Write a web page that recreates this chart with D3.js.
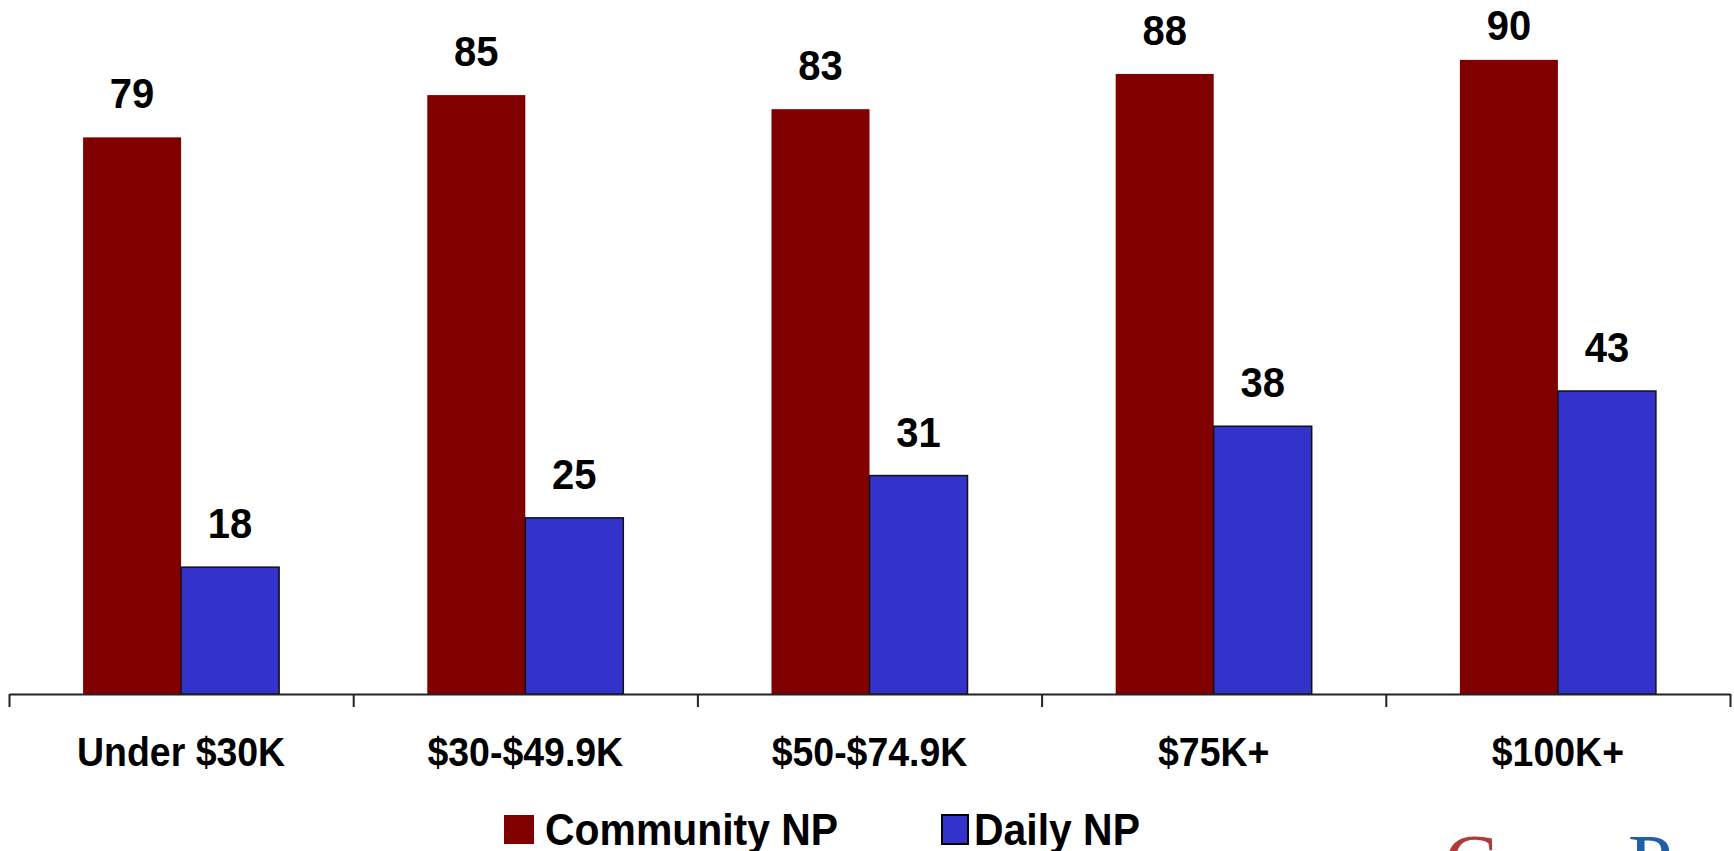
<!DOCTYPE html>
<html>
<head>
<meta charset="utf-8">
<script src="https://cdn.jsdelivr.net/npm/d3@7"></script>
<style>
  html, body { margin: 0; padding: 0; background: #fff; overflow: hidden; }
  svg { display: block; }
</style>
</head>
<body>
<svg id="chart" width="1734" height="851"></svg>
<script>
const categories = ["Under $30K", "$30-$49.9K", "$50-$74.9K", "$75K+", "$100K+"];
const seriesNames = ["Community NP", "Daily NP"];
const communityValues = [79, 85, 83, 88, 90];
const dailyValues = [18, 25, 31, 38, 43];
const seriesColors = ["#800000", "#3333CC"];
const logoParts = ["C", "P"];

const svg = d3.select("#chart");
const FONT = "'Liberation Sans', Arial, Helvetica, sans-serif";

const x0 = 9, x1 = 1730, baseY = 694;
const y = d3.scaleLinear().domain([0, 100]).range([baseY, baseY - 704.6]);
const xBand = d3.scaleBand().domain(categories).range([x0, x1]).paddingInner(0).paddingOuter(0);
const xSeries = d3.scaleBand().domain(seriesNames).range([0, xBand.bandwidth()]).paddingInner(0).paddingOuter(0.756);

const data = categories.map((c, i) => ({
  cat: c,
  vals: [
    { s: seriesNames[0], v: communityValues[i], color: seriesColors[0] },
    { s: seriesNames[1], v: dailyValues[i], color: seriesColors[1] }
  ]
}));

const groups = svg.selectAll("g.cat").data(data).join("g")
  .attr("class", "cat")
  .attr("transform", d => `translate(${xBand(d.cat)},0)`);

groups.selectAll("rect").data(d => d.vals).join("rect")
  .attr("x", d => xSeries(d.s))
  .attr("y", d => y(d.v))
  .attr("width", xSeries.bandwidth())
  .attr("height", d => y(0) - y(d.v))
  .attr("fill", d => d.color)
  .attr("stroke", (d, i) => i === 1 ? "#111" : "none")
  .attr("stroke-width", 1.5);

groups.selectAll("text.val").data(d => d.vals).join("text")
  .attr("class", "val")
  .attr("transform", d => `translate(${xSeries(d.s) + xSeries.bandwidth() / 2},${Math.max(y(d.v) - 29, 40)}) scale(0.93,1)`)
  .attr("text-anchor", "middle")
  .attr("font-family", FONT)
  .attr("font-weight", "bold")
  .attr("font-size", 43)
  .attr("fill", "#000")
  .text(d => d.v);

// axis with ticks at category boundaries
const xEdge = d3.scaleLinear().domain([0, categories.length]).range([x0, x1]);
const axis = d3.axisBottom(xEdge)
  .tickValues(d3.range(categories.length + 1))
  .tickSize(13)
  .tickSizeOuter(0)
  .tickFormat("");
const axG = svg.append("g").attr("transform", `translate(0,${baseY})`).call(axis);
axG.select(".domain").attr("stroke", "#222").attr("stroke-width", 2);
axG.selectAll(".tick line").attr("stroke", "#222").attr("stroke-width", 2);

// category labels
svg.selectAll("text.cat").data(categories).join("text")
  .attr("class", "cat")
  .attr("transform", d => `translate(${xBand(d) + xBand.bandwidth() / 2},766) scale(0.925,1)`)
  .attr("text-anchor", "middle")
  .attr("font-family", FONT)
  .attr("font-weight", "bold")
  .attr("font-size", 40.5)
  .attr("fill", "#000")
  .text(d => d);

// legend
const legendItems = [
  { name: seriesNames[0], color: seriesColors[0], sx: 504, sw: 30, tx: 545, stroke: "none" },
  { name: seriesNames[1], color: seriesColors[1], sx: 942, sw: 26, tx: 974, stroke: "#000" }
];
const lg = svg.append("g");
lg.selectAll("rect").data(legendItems).join("rect")
  .attr("x", d => d.sx).attr("y", 815)
  .attr("width", d => d.sw).attr("height", 29)
  .attr("fill", d => d.color)
  .attr("stroke", d => d.stroke).attr("stroke-width", 2);
lg.selectAll("text").data(legendItems).join("text")
  .attr("transform", d => `translate(${d.tx},845) scale(0.93,1)`)
  .attr("font-family", FONT)
  .attr("font-weight", "bold")
  .attr("font-size", 44)
  .attr("fill", "#000")
  .text(d => d.name);

// partially visible logo at bottom right
const logo = [
  { t: logoParts[0], x: 1444, color: "#B03A3A" },
  { t: logoParts[1], x: 1628, color: "#1F5FA8" }
];
svg.selectAll("text.logo").data(logo).join("text")
  .attr("class", "logo")
  .attr("x", d => d.x).attr("y", 890)
  .attr("font-family", "'Liberation Serif', 'Times New Roman', serif")
  .attr("font-size", 80)
  .attr("fill", d => d.color)
  .text(d => d.t);
</script>
</body>
</html>
